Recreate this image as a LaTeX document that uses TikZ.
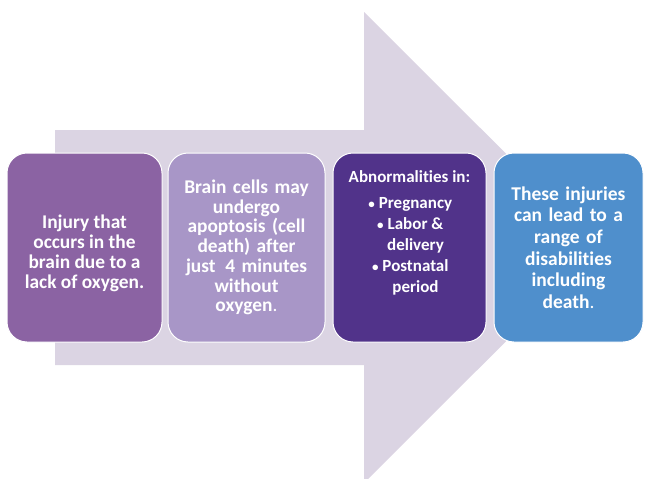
\documentclass[tikz,border=0pt]{standalone}
\usepackage{fontspec}
\setmainfont{Carlito}[Ligatures=NoCommon]
\definecolor{arrowbg}{RGB}{219,212,227}
\definecolor{boxA}{RGB}{139,99,163}
\definecolor{boxB}{RGB}{168,150,199}
\definecolor{boxC}{RGB}{81,51,138}
\definecolor{boxD}{RGB}{79,143,204}
\tikzset{
  card/.style={draw=white, line width=1pt, rounded corners=20pt,
    minimum height=189pt, text=white, align=center, inner sep=0pt,
    font=\bfseries},
  cardtext/.style={text=white, align=center, inner sep=0pt}
}
\newcommand{\bl}{\llap{{\fontsize{13}{13}\selectfont\textbullet}\hspace{4pt}}}
\begin{document}
\begin{tikzpicture}[x=1pt,y=-1pt]
\useasboundingbox (0,0) rectangle (645,479);
% large background arrow
\fill[arrowbg] (55,130) -- (364,130) -- (364,12) -- (600,247.5)
  -- (364,483) -- (364,365) -- (55,365) -- cycle;
% the four cards
\node[card, fill=boxA, minimum width=155pt] (c1) at (84.5,247.5) {};
\node[cardtext, font=\bfseries\fontsize{19.4}{20}\selectfont] (t1) at (84.5,253)
  {Injury that\\occurs in the\\brain due to a\\lack of oxygen.};
\node[card, fill=boxB, minimum width=157pt, text width=145pt,
  font=\bfseries\fontsize{19.4}{19.7}\selectfont] (c2) at (246.5,247.5)
  {Brain cells may\\undergo\\apoptosis (cell\\death) after\\just\enspace 4 minutes\\without\\oxygen{\mdseries .}};
\node[card, fill=boxC, minimum width=153pt] (c3) at (409.5,247.5) {};
\node[cardtext, anchor=north,
  font=\bfseries\fontsize{17}{21}\selectfont] (t3) at (409.5,170)
  {Abnormalities in:\\[5pt]
   \hspace{12pt}\bl Pregnancy\\
   \hspace{12pt}\bl Labor \&\\
   \hspace{12pt}delivery\\
   \hspace{12pt}\bl Postnatal\\
   \hspace{12pt}period};
\node[card, fill=boxD, minimum width=149pt, text width=140pt,
  font=\bfseries\fontsize{19.5}{21.7}\selectfont] (c4) at (568.5,247.5)
  {These injuries\\can lead to a\\range of\\disabilities\\including\\death{\mdseries .}};
\end{tikzpicture}
\end{document}
